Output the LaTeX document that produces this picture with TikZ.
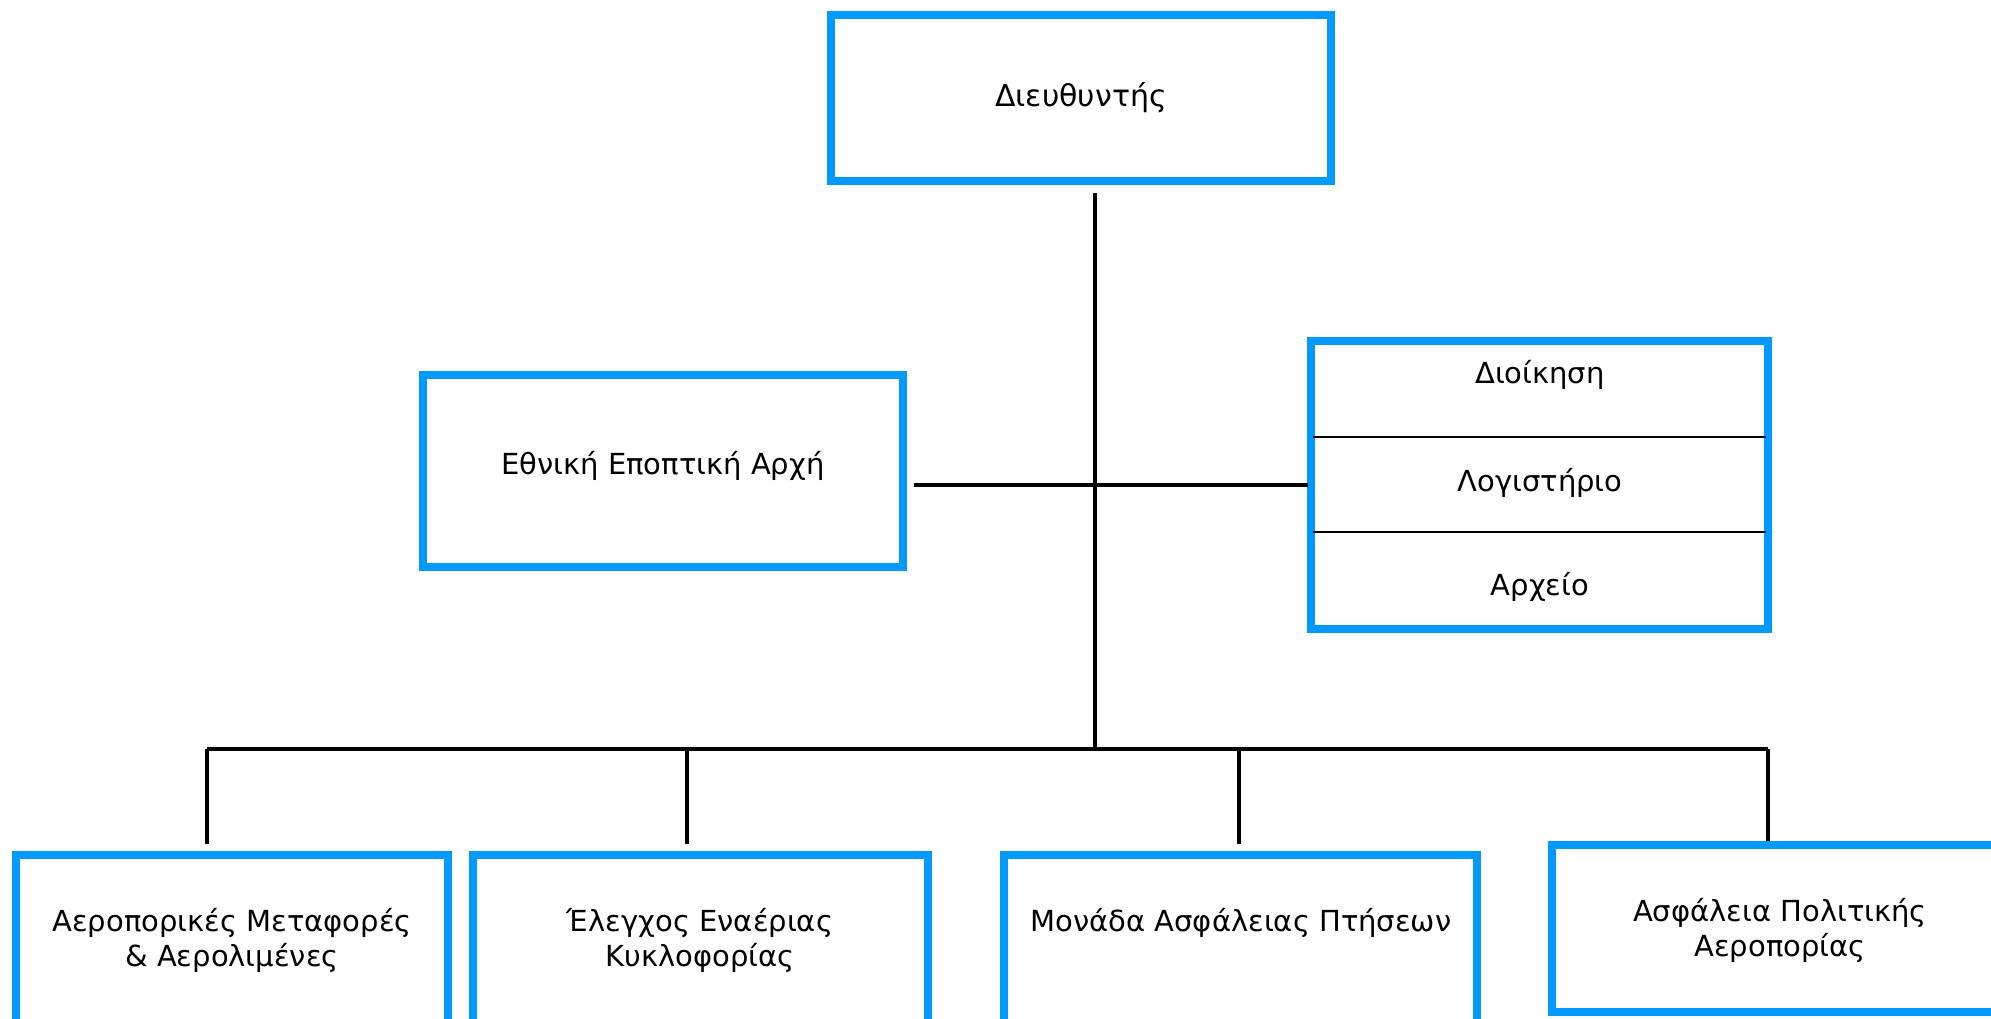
\documentclass[tikz,border=0pt]{standalone}
\usepackage{fontspec}
\setmainfont{DejaVu Sans}
\definecolor{boxblue}{RGB}{0,153,255}
\begin{document}
\begin{tikzpicture}[x=1pt,y=-1pt,
  box/.style={draw=boxblue, line width=8pt, fill=white, rectangle, inner sep=0pt, outer sep=0pt,
    align=center, font=\fontsize{29}{35}\selectfont, text=black},
  lbl/.style={inner sep=0pt, outer sep=0pt, align=center, font=\fontsize{29}{35}\selectfont, text=black},
  conn/.style={draw=black, line width=4pt},
  divider/.style={draw=black, line width=1.6pt}]
\useasboundingbox (0,0) rectangle (1991,1019);
\clip (0,0) rectangle (1991,1019);
\fill[white] (0,0) rectangle (1991,1019);

% boxes
\node[box, minimum width=500pt, minimum height=166pt, font=\fontsize{30}{36}\selectfont] (dir) at (1081,98) {Διευθυντής};
\node[box, minimum width=480pt, minimum height=192pt] (eea) at (663,471) {};
\node[lbl] (eeat) at (663,466) {Εθνική Εποπτική Αρχή};
\node[box, minimum width=457pt, minimum height=288pt] (rb) at (1539.5,485) {};
\node[lbl] (dioik) at (1540,375) {Διοίκηση};
\node[lbl] (logist) at (1540,483) {Λογιστήριο};
\node[lbl] (arch) at (1540,587) {Αρχείο};
\draw[divider] (1313,437) -- (1766,437);
\draw[divider] (1313,532) -- (1766,532);

\node[box, minimum width=432pt, minimum height=175pt] (b1) at (232,942.5) {};
\node[lbl] (b1t) at (232,940) {Αεροπορικές Μεταφορές\\\& Αερολιμένες};
\node[box, minimum width=455pt, minimum height=175pt] (b2) at (700.5,942.5) {};
\node[lbl] (b2t) at (700,940) {Έλεγχος Εναέριας\\Κυκλοφορίας};
\node[box, minimum width=473pt, minimum height=175pt] (b3) at (1240.5,942.5) {};
\node[lbl] (b3t) at (1241,923) {Μονάδα Ασφάλειας Πτήσεων};
\node[box, minimum width=456pt, minimum height=167pt] (b4) at (1780,928.5) {};
\node[lbl] (b4t) at (1780,930) {Ασφάλεια Πολιτικής\\Αεροπορίας};

% connectors
\coordinate (vtop) at (1095,193);
\coordinate (hub) at (1095,749);
\coordinate (eeaend) at (914,485);
\coordinate (rbend) at (1308,485);
\coordinate (bus1) at (207,749);
\coordinate (bus2) at (687,749);
\coordinate (bus3) at (1239,749);
\coordinate (bus4) at (1768,749);
\coordinate (d1) at (207,844);
\coordinate (d2) at (687,844);
\coordinate (d3) at (1239,844);
\coordinate (d4) at (1768,841);

\draw[conn] (vtop) -- (hub);
\draw[conn] (eeaend) -- (rbend);
\draw[conn] (bus1) -- (bus4);
\draw[conn] (bus1) -- (d1);
\draw[conn] (bus2) -- (d2);
\draw[conn] (bus3) -- (d3);
\draw[conn] (bus4) -- (d4);
\end{tikzpicture}
\end{document}
